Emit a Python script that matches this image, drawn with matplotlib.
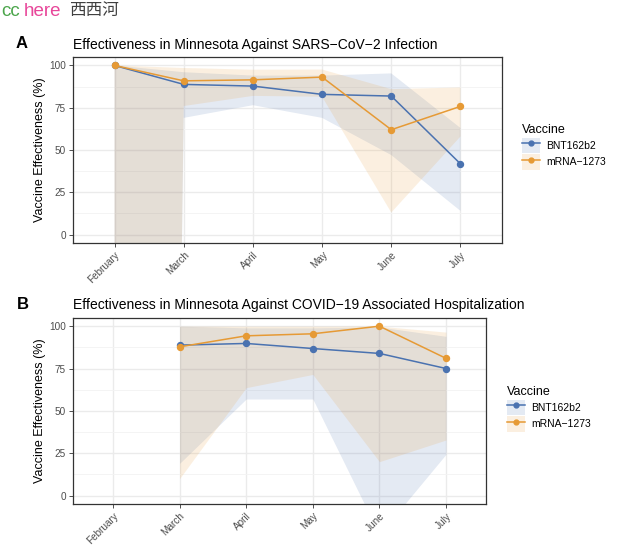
import matplotlib.pyplot as plt
from matplotlib.patches import Patch
from matplotlib.lines import Line2D
import numpy as np

plt.rcParams['font.family'] = ['Liberation Sans', 'DejaVu Sans']

# 数据
months = ['February', 'March', 'April', 'May', 'June', 'July']
vaccines = ['BNT162b2', 'mRNA\u22121273']
colors = ['#4A72B0', '#E69A35']

# A: infection
inf_bnt = [100, 88.8, 87.8, 82.9, 81.9, 41.8]
inf_bnt_lo = [-3000, 69, 76.5, 69, 47, 14]
inf_bnt_hi = [100, 96, 94, 94, 95.3, 63]
inf_mrna = [100, 90.9, 91.5, 93.1, 62, 75.8]
inf_mrna_lo = [-3000, 76, 82, 81.5, 13, 58]
inf_mrna_hi = [100, 98.5, 97.5, 97.6, 86, 87]

# B: hospitalization (no February estimate)
hos_bnt = [np.nan, 88.8, 89.8, 86.8, 83.9, 75]
hos_bnt_lo = [np.nan, 19, 57, 57, -23, 24.4]
hos_bnt_hi = [np.nan, 100, 99, 99, 99.5, 94]
hos_mrna = [np.nan, 87.8, 94.3, 95.5, 100, 81]
hos_mrna_lo = [np.nan, 10, 63.7, 71.5, 20, 32.8]
hos_mrna_hi = [np.nan, 100, 100, 100, 100, 96.5]

fig = plt.figure(figsize=(6.21, 5.45), dpi=100)


def panel(rect, title, letter, series, legend_xy):
    ax = fig.add_axes(rect)
    x = np.arange(len(months))
    for (y, lo, hi), c in zip(series, colors):
        ax.fill_between(x, lo, hi, color=c, alpha=0.15, linewidth=0)
    for (y, lo, hi), c in zip(series, colors):
        ax.plot(x, y, color=c, linewidth=1.1, marker='o', markersize=4.3)
    ax.set_xlim(-0.6, len(months) - 0.4)
    ax.set_ylim(-5, 105)
    ax.set_yticks([0, 25, 50, 75, 100])
    ax.set_yticks([12.5, 37.5, 62.5, 87.5], minor=True)
    ax.set_xticks(x)
    ax.set_xticklabels(months, rotation=45, ha='right', rotation_mode='anchor')
    ax.grid(True, which='major', color='#EBEBEB', linewidth=1.0)
    ax.grid(True, which='minor', axis='y', color='#F3F3F3', linewidth=0.6)
    ax.set_axisbelow(True)
    ax.tick_params(axis='both', which='major', labelsize=7.2, labelcolor='#4D4D4D',
                   color='#333333', length=3, width=0.6, pad=2)
    ax.tick_params(axis='y', which='minor', length=0)
    for s in ax.spines.values():
        s.set_color('#333333')
        s.set_linewidth(0.9)
    ax.set_ylabel('Vaccine Effectiveness (%)', fontsize=9, labelpad=2)
    ax.set_title(title, fontsize=10, loc='left', x=0, pad=6)
    ax.text(-0.135, 1.07, letter, transform=ax.transAxes, fontsize=12,
            fontweight='bold', va='center', ha='left')
    handles = [(Patch(facecolor=c, alpha=0.15, edgecolor='none'),
                Line2D([], [], color=c, linewidth=1.1, marker='o', markersize=3.5))
               for c in colors]
    fig.legend(handles, vaccines, title='Vaccine', loc='upper left',
               bbox_to_anchor=legend_xy, frameon=False, fontsize=7.5,
               title_fontsize=9, handlelength=1.7, handleheight=1.9,
               handletextpad=0.6, labelspacing=0.12, alignment='left')
    return ax


panel([73 / 621, 1 - 243 / 545, 429 / 621, 186 / 545],
      'Effectiveness in Minnesota Against SARS\u2212CoV\u22122 Infection', 'A',
      [(inf_bnt, inf_bnt_lo, inf_bnt_hi), (inf_mrna, inf_mrna_lo, inf_mrna_hi)],
      (513 / 621, 1 - 115 / 545))
panel([73 / 621, 1 - 504 / 545, 413 / 621, 186.3 / 545],
      'Effectiveness in Minnesota Against COVID\u221219 Associated Hospitalization', 'B',
      [(hos_bnt, hos_bnt_lo, hos_bnt_hi), (hos_mrna, hos_mrna_lo, hos_mrna_hi)],
      (498 / 621, 1 - 377 / 545))

# 水印
fig.text(1 / 621, 1 - 11 / 545, 'cc', color='#4CA64C', fontsize=13.5, va='center')
fig.text(24 / 621, 1 - 11 / 545, 'here', color='#E8479A', fontsize=13.5, va='center')
fig.text(69 / 621, 1 - 11 / 545, '西西河', color='#404040', fontsize=12, va='center',
         family=['Noto Sans CJK SC', 'DejaVu Sans'])

plt.savefig('out.png', dpi=100)
